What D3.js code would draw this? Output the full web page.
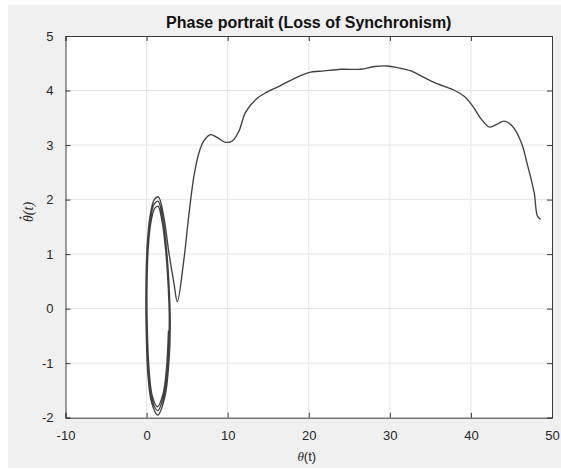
<!DOCTYPE html>
<html>
<head>
<meta charset="utf-8">
<script src="https://cdn.jsdelivr.net/npm/d3@7"></script>
<style>
  body { margin: 0; background: #fff; }
  svg text { font-family: "Liberation Sans", Arial, Helvetica, sans-serif; }
</style>
</head>
<body>
<div id="chart"></div>
<script>
var theta = [
    // loop 1
    2.70, 2.45, 2.05, 1.35, 0.70, 0.30, 0.08, 0.05, 0.20, 0.55, 1.00, 1.40, 1.85, 2.30, 2.65, 2.80,
    // loop 2
    2.60, 2.15, 1.35, 0.65, 0.22, 0.00, -0.02, 0.12, 0.50, 0.95, 1.42, 1.90, 2.40, 2.75, 2.92,
    // loop 3, then the rotor slips
    2.72, 2.25, 1.38, 0.62, 0.15, -0.06, -0.08, 0.05, 0.45, 0.95, 1.45, 2.10, 2.76, 3.37, 3.79,
    4.6, 5.2, 5.84, 6.46, 7.08, 7.9, 8.7, 9.75, 10.6, 11.4, 12.2, 13.5, 14.7, 16.5, 18.2,
    20.0, 21.9, 24.0, 26.4, 28.1, 29.7, 30.9, 32.6, 34.2, 35.9, 37.9, 39.2, 40.2, 41.2,
    42.3, 43.3, 44.1, 45.1, 46.2, 47.0, 47.8, 48.2, 48.6
];
var thetaDot = [
    -0.40, -1.10, -1.55, -1.80, -1.60, -1.10, -0.30, 0.40, 1.10, 1.60, 1.84, 1.88, 1.65, 1.15, 0.45, -0.20,
    -1.05, -1.58, -1.87, -1.66, -1.15, -0.30, 0.40, 1.10, 1.68, 1.92, 1.97, 1.72, 1.18, 0.48, -0.25,
    -1.05, -1.62, -1.95, -1.72, -1.18, -0.30, 0.40, 1.10, 1.72, 2.00, 2.05, 1.70, 1.02, 0.47, 0.13,
    0.90, 1.70, 2.43, 2.86, 3.08, 3.19, 3.14, 3.05, 3.08, 3.26, 3.60, 3.84, 3.96, 4.09, 4.22,
    4.33, 4.36, 4.39, 4.39, 4.44, 4.45, 4.42, 4.36, 4.24, 4.12, 4.01, 3.89, 3.72, 3.49,
    3.33, 3.39, 3.44, 3.35, 3.05, 2.62, 2.13, 1.70, 1.64
];
var xTicks = [-10, 0, 10, 20, 30, 40, 50];
var yTicks = [-2, -1, 0, 1, 2, 3, 4, 5];
var titleText = "Phase portrait (Loss of Synchronism)";

var width = 561, height = 470;
var axLeft = 65.5, axRight = 552, axTop = 36, axBottom = 417.7;

var svg = d3.select('#chart').append('svg')
    .attr('width', width)
    .attr('height', height);

// grey figure panel
svg.append('rect')
    .attr('x', 8).attr('y', 5)
    .attr('width', width - 8).attr('height', 463)
    .attr('fill', '#f0f0f0');

var x = d3.scaleLinear().domain([-10, 50]).range([axLeft, axRight]);
var y = d3.scaleLinear().domain([-2, 5]).range([axBottom, axTop]);

svg.append('rect')
    .attr('x', axLeft).attr('y', axTop)
    .attr('width', axRight - axLeft).attr('height', axBottom - axTop)
    .attr('fill', '#fff');

// grid
svg.append('g').selectAll('line')
    .data(xTicks.slice(1, -1))
    .join('line')
    .attr('x1', d => x(d)).attr('x2', d => x(d))
    .attr('y1', axTop).attr('y2', axBottom)
    .attr('stroke', '#e4e4e4').attr('stroke-width', 1);
svg.append('g').selectAll('line')
    .data(yTicks.slice(1, -1))
    .join('line')
    .attr('y1', d => y(d)).attr('y2', d => y(d))
    .attr('x1', axLeft).attr('x2', axRight)
    .attr('stroke', '#e4e4e4').attr('stroke-width', 1);

// axes with inward ticks (box on), plain hyphen minus like matlab
var tk = 5;
var fmt = d => String(d);
var xAxis = svg.append('g')
    .attr('transform', 'translate(0,' + axBottom + ')')
    .call(d3.axisBottom(x).tickValues(xTicks).tickSize(-tk).tickPadding(tk + 8).tickFormat(fmt));
var yAxis = svg.append('g')
    .attr('transform', 'translate(' + axLeft + ',0)')
    .call(d3.axisLeft(y).tickValues(yTicks).tickSize(-tk).tickPadding(tk + 7).tickFormat(fmt));
var xTop = svg.append('g')
    .attr('transform', 'translate(0,' + axTop + ')')
    .call(d3.axisTop(x).tickValues(xTicks).tickSize(-tk).tickFormat(''));
var yRight = svg.append('g')
    .attr('transform', 'translate(' + axRight + ',0)')
    .call(d3.axisRight(y).tickValues(yTicks).tickSize(-tk).tickFormat(''));

[xAxis, yAxis, xTop, yRight].forEach(function(g) {
    g.select('.domain').attr('stroke', '#3a3a3a').attr('stroke-width', 1);
    g.selectAll('.tick line').attr('stroke', '#3a3a3a');
    g.selectAll('.tick text')
        .attr('fill', '#262626')
        .style('font-size', '13px');
});

// trajectory
var pts = theta.map((t, i) => [t, thetaDot[i]]);
var line = d3.line()
    .x(d => x(d[0]))
    .y(d => y(d[1]))
    .curve(d3.curveCatmullRom.alpha(0.5));

svg.append('path')
    .attr('d', line(pts))
    .attr('fill', 'none')
    .attr('stroke', '#404040')
    .attr('stroke-width', 1.35)
    .attr('stroke-linejoin', 'round');

// title and labels
svg.append('text')
    .attr('x', (axLeft + axRight) / 2)
    .attr('y', 28)
    .attr('text-anchor', 'middle')
    .style('font-size', '16px')
    .style('font-weight', 'bold')
    .attr('fill', '#111')
    .text(titleText);

var xl = svg.append('text')
    .attr('x', (axLeft + axRight) / 2 - 2)
    .attr('y', 461)
    .attr('text-anchor', 'middle')
    .attr('fill', '#262626')
    .style('font-size', '13px');
xl.append('tspan').style('font-family', '"Liberation Serif", "DejaVu Serif", serif')
    .style('font-style', 'italic').text('\u03b8');
xl.append('tspan').text('(t)');

// y label: theta with a dot on top, drawn by hand since the combining mark is lost
var yl = svg.append('g').attr('transform', 'translate(33,212) rotate(-90)');
var ylText = yl.append('text')
    .attr('text-anchor', 'middle')
    .attr('fill', '#262626')
    .style('font-size', '14px')
    .style('font-family', '"Liberation Serif", "DejaVu Serif", serif')
    .style('font-style', 'italic')
    .text('\u03b8(t)');
var total = ylText.node().getComputedTextLength();
var thW = ylText.node().getSubStringLength(0, 1);
yl.append('circle')
    .attr('cx', -total / 2 + thW * 0.62)
    .attr('cy', -12.5)
    .attr('r', 1.1)
    .attr('fill', '#262626');
</script>
</body>
</html>
